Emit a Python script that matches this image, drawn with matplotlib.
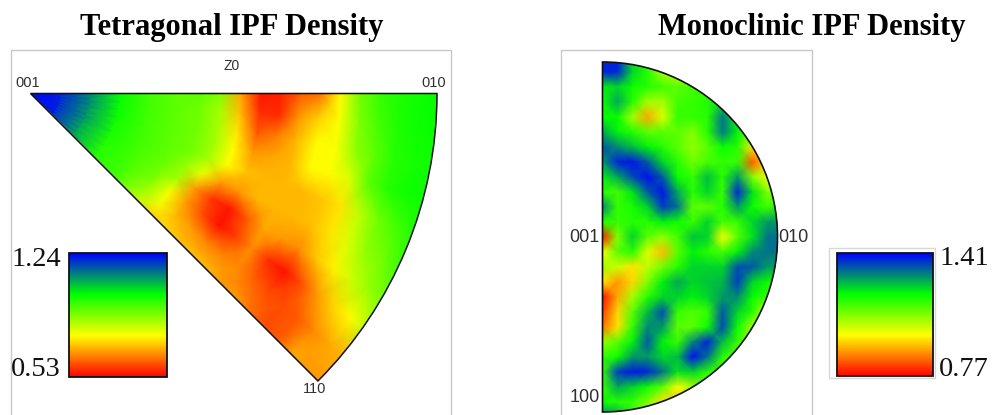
import numpy as np
import matplotlib
matplotlib.use('Agg')
import matplotlib.pyplot as plt
from matplotlib.colors import LinearSegmentedColormap, Normalize
from matplotlib.cm import ScalarMappable
from matplotlib.patches import Rectangle, Wedge

# colour levels: 0 = red (min), 1 = blue (max)
tet_min, tet_max = 0.53, 1.24
mono_min, mono_max = 0.77, 1.41

tet_radius_nodes = [0, 30, 60, 90, 120, 150, 170, 190, 210, 230, 250, 270, 290, 310, 330, 350, 370, 390, 410]
tet_angle_nodes = [0, 5, 10, 15, 20, 25, 30, 35, 40, 45]
tet_levels = [
    [1.00, 1.00, 1.00, 1.00, 1.00, 1.00, 1.00, 1.00, 1.00, 1.00],
    [0.95, 0.95, 0.95, 0.95, 0.95, 0.95, 0.95, 0.95, 0.95, 0.95],
    [0.82, 0.82, 0.82, 0.80, 0.80, 0.80, 0.78, 0.78, 0.78, 0.78],
    [0.66, 0.66, 0.65, 0.65, 0.64, 0.64, 0.63, 0.62, 0.62, 0.62],
    [0.58, 0.58, 0.58, 0.58, 0.58, 0.58, 0.58, 0.58, 0.58, 0.58],
    [0.54, 0.54, 0.54, 0.54, 0.54, 0.54, 0.52, 0.50, 0.46, 0.42],
    [0.55, 0.52, 0.52, 0.52, 0.52, 0.48, 0.45, 0.35, 0.35, 0.28],
    [0.50, 0.45, 0.45, 0.46, 0.45, 0.36, 0.20, 0.20, 0.24, 0.28],
    [0.22, 0.25, 0.30, 0.33, 0.33, 0.20, 0.07, 0.10, 0.20, 0.25],
    [0.03, 0.06, 0.12, 0.20, 0.25, 0.20, 0.03, 0.02, 0.17, 0.25],
    [0.04, 0.06, 0.17, 0.22, 0.24, 0.24, 0.12, 0.08, 0.17, 0.24],
    [0.12, 0.20, 0.24, 0.24, 0.24, 0.24, 0.22, 0.18, 0.18, 0.20],
    [0.15, 0.28, 0.33, 0.33, 0.24, 0.24, 0.20, 0.06, 0.13, 0.20],
    [0.33, 0.34, 0.34, 0.33, 0.26, 0.25, 0.18, 0.02, 0.10, 0.15],
    [0.52, 0.50, 0.48, 0.38, 0.30, 0.30, 0.26, 0.10, 0.10, 0.10],
    [0.60, 0.58, 0.55, 0.55, 0.42, 0.38, 0.32, 0.20, 0.12, 0.12],
    [0.63, 0.63, 0.62, 0.62, 0.52, 0.48, 0.40, 0.28, 0.18, 0.22],
    [0.65, 0.65, 0.64, 0.65, 0.58, 0.52, 0.47, 0.33, 0.22, 0.20],
    [0.66, 0.66, 0.65, 0.65, 0.63, 0.60, 0.52, 0.42, 0.24, 0.20],
]

mono_x_nodes = [0, 15, 30, 45, 60, 75, 90, 105, 120, 135, 150, 165, 180]
mono_y_nodes = [-180, -165, -150, -135, -120, -105, -90, -75, -60, -45, -30, -15, 0,
                15, 30, 45, 60, 75, 90, 105, 120, 135, 150, 165, 180]
mono_levels = [
    [0.95, 0.95, 0.70, 0.60, 0.50, 0.50, 0.50, 0.55, 0.55, 0.55, 0.55, 0.55, 0.55],
    [0.95, 0.95, 0.72, 0.62, 0.45, 0.42, 0.50, 0.58, 0.60, 0.60, 0.60, 0.60, 0.60],
    [0.68, 0.72, 0.65, 0.62, 0.58, 0.55, 0.58, 0.62, 0.65, 0.65, 0.60, 0.60, 0.60],
    [0.65, 0.78, 0.62, 0.45, 0.45, 0.58, 0.60, 0.62, 0.70, 0.65, 0.60, 0.60, 0.60],
    [0.66, 0.66, 0.45, 0.22, 0.38, 0.60, 0.60, 0.62, 0.84, 0.68, 0.58, 0.55, 0.55],
    [0.78, 0.68, 0.62, 0.55, 0.55, 0.55, 0.50, 0.62, 0.84, 0.68, 0.50, 0.50, 0.50],
    [0.88, 0.82, 0.75, 0.68, 0.62, 0.55, 0.48, 0.55, 0.66, 0.62, 0.30, 0.40, 0.45],
    [0.80, 0.95, 0.97, 0.88, 0.72, 0.62, 0.52, 0.58, 0.60, 0.60, 0.12, 0.30, 0.45],
    [0.68, 0.78, 0.90, 0.98, 0.88, 0.66, 0.60, 0.75, 0.62, 0.80, 0.50, 0.35, 0.50],
    [0.62, 0.58, 0.70, 0.88, 0.97, 0.78, 0.62, 0.72, 0.60, 0.95, 0.70, 0.50, 0.55],
    [0.82, 0.60, 0.64, 0.72, 0.92, 0.85, 0.55, 0.55, 0.62, 0.80, 0.66, 0.58, 0.68],
    [0.62, 0.60, 0.62, 0.62, 0.68, 0.65, 0.60, 0.72, 0.58, 0.60, 0.72, 0.80, 0.80],
    [0.04, 0.50, 0.72, 0.55, 0.48, 0.58, 0.74, 0.72, 0.35, 0.55, 0.70, 0.85, 0.85],
    [0.35, 0.55, 0.62, 0.38, 0.25, 0.55, 0.68, 0.62, 0.58, 0.68, 0.82, 0.85, 0.85],
    [0.45, 0.40, 0.30, 0.42, 0.52, 0.62, 0.72, 0.72, 0.72, 0.90, 0.88, 0.80, 0.78],
    [0.30, 0.20, 0.28, 0.50, 0.68, 0.78, 0.72, 0.74, 0.76, 0.92, 0.72, 0.66, 0.62],
    [0.02, 0.22, 0.45, 0.62, 0.72, 0.72, 0.68, 0.72, 0.80, 0.82, 0.66, 0.60, 0.55],
    [0.08, 0.28, 0.55, 0.75, 0.90, 0.60, 0.56, 0.60, 0.88, 0.72, 0.62, 0.35, 0.40],
    [0.15, 0.30, 0.60, 0.82, 0.80, 0.55, 0.55, 0.65, 0.90, 0.66, 0.45, 0.40, 0.40],
    [0.48, 0.55, 0.68, 0.88, 0.68, 0.60, 0.82, 0.95, 0.75, 0.60, 0.50, 0.50, 0.50],
    [0.60, 0.65, 0.80, 0.80, 0.72, 0.75, 0.98, 0.85, 0.62, 0.55, 0.55, 0.55, 0.55],
    [0.60, 0.92, 0.97, 0.95, 0.85, 0.70, 0.72, 0.62, 0.58, 0.55, 0.55, 0.55, 0.55],
    [0.60, 0.78, 0.72, 0.65, 0.55, 0.35, 0.45, 0.55, 0.55, 0.55, 0.55, 0.55, 0.55],
    [0.65, 0.62, 0.60, 0.50, 0.30, 0.25, 0.50, 0.55, 0.55, 0.55, 0.55, 0.55, 0.55],
    [0.85, 0.80, 0.60, 0.50, 0.40, 0.40, 0.50, 0.55, 0.55, 0.55, 0.55, 0.55, 0.55],
]

tet_density = tet_min + np.array(tet_levels) * (tet_max - tet_min)
mono_density = mono_min + np.array(mono_levels) * (mono_max - mono_min)

cmap = LinearSegmentedColormap.from_list('ipf', ['#ff0000', '#ffff00', '#00ff00', '#0000ff'], N=256)
serif = 'Liberation Serif'
sans = 'Liberation Sans'
W, H = 994, 415

fig = plt.figure(figsize=(W / 100, H / 100), dpi=100)
ax = fig.add_axes([0, 0, 1, 1])
ax.set_xlim(0, W)
ax.set_ylim(H, 0)
ax.axis('off')

# image frames
ax.add_patch(Rectangle((11, 50), 440, 380, fill=False, ec='#c8c8c8', lw=1))
ax.add_patch(Rectangle((561, 50), 251, 380, fill=False, ec='#c8c8c8', lw=1))

# tetragonal wedge, pole at 001
cx, cy, radius = 30.5, 93.5, 406.5
rr, aa = np.meshgrid(tet_radius_nodes, np.radians(tet_angle_nodes), indexing='ij')
mesh = ax.pcolormesh(cx + rr * np.cos(aa), cy + rr * np.sin(aa), tet_density, shading='gouraud',
                     cmap=cmap, norm=Normalize(tet_min, tet_max), zorder=2)
wedge = Wedge((cx, cy), radius, 0, 45, fc='none', ec='#111111', lw=1.1, zorder=3)
ax.add_patch(wedge)
mesh.set_clip_path(wedge)

# monoclinic half disc
mx, my, mr = 602.5, 237, 175
xx, yy = np.meshgrid(mono_x_nodes, mono_y_nodes)
mesh2 = ax.pcolormesh(mx + xx, my + yy, mono_density, shading='gouraud',
                      cmap=cmap, norm=Normalize(mono_min, mono_max), zorder=2)
half = Wedge((mx, my), mr, -90, 90, fc='none', ec='#111111', lw=1.2, zorder=3)
ax.add_patch(half)
mesh2.set_clip_path(half)

# titles
ax.text(232, 27, 'Tetragonal IPF Density', family=serif, weight='bold', fontsize=22, ha='center', va='center', color='black')
ax.text(812, 28, 'Monoclinic IPF Density', family=serif, weight='bold', fontsize=22, ha='center', va='center', color='black')

# pole labels
small = dict(family=sans, color='#303030', ha='center', va='center')
ax.text(232, 66, 'Z0', fontsize=10, **small)
ax.text(28, 83, '001', fontsize=10.5, **small)
ax.text(434, 83, '010', fontsize=10.5, **small)
ax.text(315, 389, '110', fontsize=10.5, **small)
ax.text(584, 237, '001', fontsize=13, **small)
ax.text(793, 237, '010', fontsize=13, zorder=1, **small)
ax.text(585, 397, '100', fontsize=13, **small)

# colour bars
for box, lo, hi in [((69, 253, 98, 124), tet_min, tet_max), ((837, 253, 96, 123), mono_min, mono_max)]:
    cax = fig.add_axes([box[0] / W, 1 - (box[1] + box[3]) / H, box[2] / W, box[3] / H])
    cb = fig.colorbar(ScalarMappable(Normalize(lo, hi), cmap), cax=cax)
    cb.set_ticks([])
    cb.outline.set_linewidth(1.3)
    cb.outline.set_edgecolor('#111111')
ax.add_patch(Rectangle((829, 248), 106, 130, fill=False, ec='#d8d8d8', lw=1))

big = dict(family=serif, fontsize=20.5, color='#111111', va='center')
ax.text(61, 259, '%.2f' % tet_max, ha='right', **big)
ax.text(61, 369, '%.2f' % tet_min, ha='right', **big)
ax.text(940, 258, '%.2f' % mono_max, ha='left', **big)
ax.text(939, 369, '%.2f' % mono_min, ha='left', **big)

plt.savefig('out.png', dpi=100)
plt.close()
